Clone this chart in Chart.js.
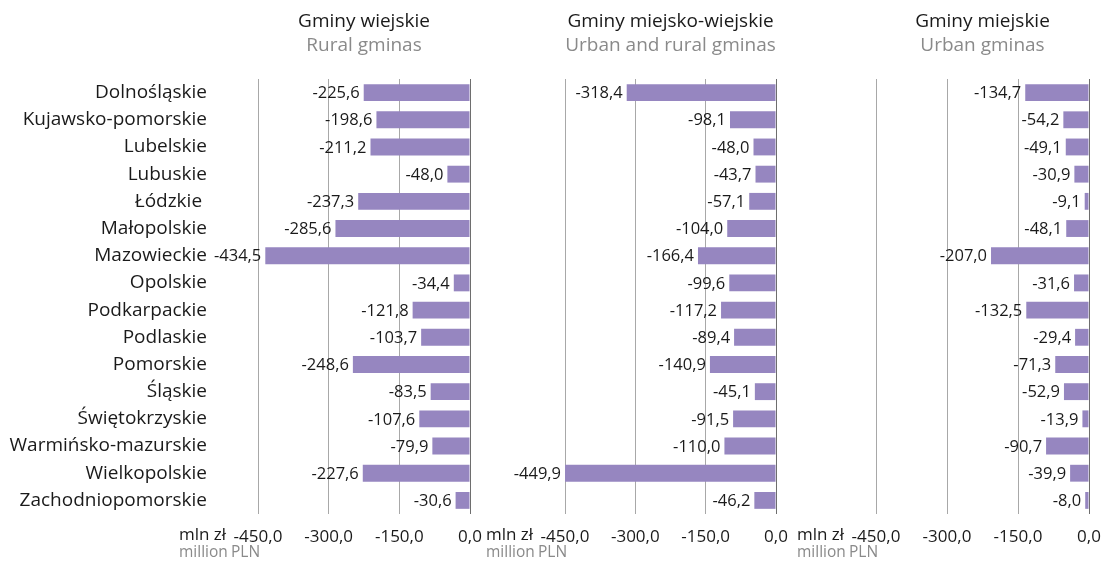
<!DOCTYPE html>
<html lang="pl">
<head>
<meta charset="UTF-8">
<title>Gminy – wynik budżetu</title>
<script src="https://cdn.jsdelivr.net/npm/chart.js"></script>
<style>
  body { margin: 0; background: #fff; }
  #wrap { position: relative; width: 1102px; height: 562px; }
  .panel { position: absolute; top: 0; height: 562px; }
</style>
</head>
<body>
<div id="wrap">
  <div class="panel" style="left:0;width:500px"><canvas id="c1" width="500" height="562"></canvas></div>
  <div class="panel" style="left:480px;width:320px"><canvas id="c2" width="320" height="562"></canvas></div>
  <div class="panel" style="left:790px;width:312px"><canvas id="c3" width="312" height="562"></canvas></div>
</div>
<script>
// regions (voivodeships)
const regions = ['Dolnośląskie', 'Kujawsko-pomorskie', 'Lubelskie', 'Lubuskie', 'Łódzkie ', 'Małopolskie',
  'Mazowieckie', 'Opolskie', 'Podkarpackie', 'Podlaskie', 'Pomorskie', 'Śląskie', 'Świętokrzyskie',
  'Warmińsko-mazurskie', 'Wielkopolskie', 'Zachodniopomorskie'];

// mln zł
const ruralGminas = [-225.6, -198.6, -211.2, -48.0, -237.3, -285.6, -434.5, -34.4, -121.8, -103.7, -248.6, -83.5, -107.6, -79.9, -227.6, -30.6];
const urbanRuralGminas = [-318.4, -98.1, -48.0, -43.7, -57.1, -104.0, -166.4, -99.6, -117.2, -89.4, -140.9, -45.1, -91.5, -110.0, -449.9, -46.2];
const urbanGminas = [-134.7, -54.2, -49.1, -30.9, -9.1, -48.1, -207.0, -31.6, -132.5, -29.4, -71.3, -52.9, -13.9, -90.7, -39.9, -8.0];

const xTicks = [-450, -300, -150, 0];

const FONT = "'Open Sans', sans-serif";
const BAR = '#9686c0';
const GREY = '#8a8a8a';
Chart.defaults.font.family = FONT;
Chart.defaults.color = '#1a1a1a';

const fmt = v => v.toFixed(1).replace('.', ',');

// value labels, panel titles and unit labels
const extras = {
  id: 'extras',
  afterDatasetsDraw(chart, args, opts) {
    const ctx = chart.ctx;
    const area = chart.chartArea;
    const ds = chart.data.datasets[0];
    ctx.save();
    ctx.font = '16.5px ' + FONT;
    ctx.fillStyle = '#1a1a1a';
    ctx.textAlign = 'right';
    ctx.textBaseline = 'middle';
    chart.getDatasetMeta(0).data.forEach((bar, i) => {
      ctx.fillText(fmt(ds.data[i]), Math.min(bar.x, bar.base) - 4, bar.y + 1);
    });

    const cx = (area.left + area.right) / 2;
    ctx.textAlign = 'center';
    ctx.font = '19px ' + FONT;
    ctx.fillStyle = '#1a1a1a';
    ctx.fillText(opts.title, cx, 22);
    ctx.fillStyle = GREY;
    ctx.fillText(opts.subtitle, cx, 46);

    ctx.textAlign = 'left';
    ctx.font = '17px ' + FONT;
    ctx.fillStyle = '#1a1a1a';
    ctx.fillText('mln zł', area.left - 79, 535);
    ctx.font = '15.5px ' + FONT;
    ctx.fillStyle = GREY;
    ctx.fillText('million', area.left - 79, 553);
    ctx.fillText('PLN', area.left - 27, 553);
    ctx.restore();
  }
};

function makeChart(id, values, title, subtitle, opt) {
  return new Chart(document.getElementById(id), {
    type: 'bar',
    data: {
      labels: regions,
      datasets: [{
        data: values,
        backgroundColor: BAR,
        borderWidth: 0,
        barPercentage: 0.62,
        categoryPercentage: 1
      }]
    },
    options: {
      indexAxis: 'y',
      responsive: false,
      animation: false,
      layout: { padding: { top: 79, bottom: 0, left: opt.padLeft, right: opt.padRight } },
      plugins: {
        legend: { display: false },
        tooltip: { enabled: false },
        extras: { title: title, subtitle: subtitle }
      },
      scales: {
        x: {
          min: -450,
          max: 0,
          afterBuildTicks: s => { s.ticks = xTicks.map(v => ({ value: v })); },
          afterFit: s => { s.height = 48; s.paddingLeft = 0; s.paddingRight = 0; },
          grid: {
            color: ctx => ctx.tick && ctx.tick.value === 0 ? '#6e6e6e' : '#a8a8a8',
            lineWidth: 1,
            drawTicks: false
          },
          border: { display: false },
          ticks: {
            padding: 13,
            font: { size: 17 },
            color: '#1a1a1a',
            maxRotation: 0,
            callback: v => fmt(v)
          }
        },
        y: {
          display: opt.showLabels,
          afterFit: s => { s.width = opt.axisWidth; s.paddingTop = 0; s.paddingBottom = 0; },
          grid: { display: false, drawTicks: false },
          border: { display: false },
          ticks: {
            padding: 51,
            font: { size: 19 },
            color: '#1a1a1a',
            autoSkip: false
          }
        }
      }
    },
    plugins: [extras]
  });
}

makeChart('c1', ruralGminas, 'Gminy wiejskie', 'Rural gminas',
  { showLabels: true, axisWidth: 258, padLeft: 0, padRight: 30 });
makeChart('c2', urbanRuralGminas, 'Gminy miejsko-wiejskie', 'Urban and rural gminas',
  { showLabels: false, axisWidth: 0, padLeft: 85, padRight: 24 });
makeChart('c3', urbanGminas, 'Gminy miejskie', 'Urban gminas',
  { showLabels: false, axisWidth: 0, padLeft: 86, padRight: 13 });
</script>
</body>
</html>
